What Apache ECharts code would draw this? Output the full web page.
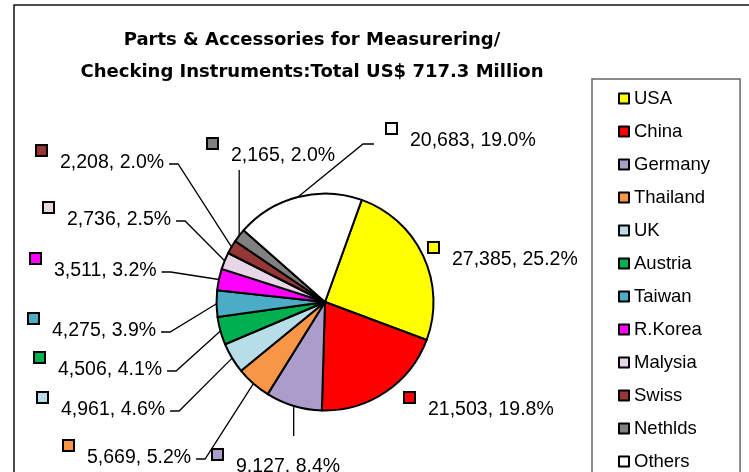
<!DOCTYPE html>
<html>
<head>
<meta charset="utf-8">
<script src="https://cdn.jsdelivr.net/npm/echarts@6/dist/echarts.min.js"></script>
<style>
  html, body { margin: 0; padding: 0; background: #fff; }
  #chart { width: 749px; height: 472px; }
</style>
</head>
<body>
<div id="chart"></div>
<script>
// Import values of parts & accessories for measuring/checking instruments
const countries = ['USA', 'China', 'Germany', 'Thailand', 'UK', 'Austria', 'Taiwan', 'R.Korea', 'Malysia', 'Swiss', 'Nethlds', 'Others'];
const values = [27385, 21503, 9127, 5669, 4961, 4506, 4275, 3511, 2736, 2208, 2165, 20683];
const colors = ['#FFFF00', '#FF0000', '#AC9CC9', '#F79646', '#B7DEE8', '#00B050', '#4BACC6', '#FF00FF', '#E6D6E6', '#953735', '#808080', '#FFFFFF'];
const titleLines = ['Parts & Accessories for Measurering/', 'Checking Instruments:Total US$ 717.3 Million'];

// Label placement: [marker left x, text middle y] and the route of each leader line
const labelSpots = [[429, 260], [405, 410], [213, 467], [64, 458], [38, 410], [35, 370], [29, 331], [31, 271], [44, 220], [37, 163], [208, 156], [387, 141]];
const leaderKinds = ['none', 'none', 'down', 'left', 'left', 'left', 'left', 'left', 'left', 'left', 'up', 'right'];

const FONT = '"Liberation Sans", Arial, sans-serif';
const TITLE_FONT = '"DejaVu Sans", Verdana, sans-serif';

// Title size: the first line spans 377px
const measureCtx = document.createElement('canvas').getContext('2d');
measureCtx.font = 'bold 20px ' + TITLE_FONT;
const titleSize = 20 * 377 / measureCtx.measureText(titleLines[0]).width;

// one rich style per slice for the small coloured key square in front of each label
const rich = {
  t: { fontSize: 19.5, fontFamily: FONT, color: '#000', lineHeight: 20, verticalAlign: 'bottom', padding: [0, 0, 0, 14] }
};
colors.forEach((c, i) => {
  rich['m' + i] = {
    width: 9, height: 9, lineHeight: 27, verticalAlign: 'top',
    backgroundColor: c, borderColor: '#000', borderWidth: 2
  };
});

const chart = echarts.init(document.getElementById('chart'), null, { renderer: 'canvas' });

chart.setOption({
  animation: false,
  backgroundColor: '#fff',
  graphic: [{
    type: 'rect',
    silent: true,
    z: -1,
    shape: { x: 14, y: 5, width: 760, height: 500 },
    style: { fill: 'none', stroke: '#111', lineWidth: 1.5 }
  }],
  title: {
    text: titleLines.join('\n'),
    left: 307,
    top: 20,
    textAlign: 'center',
    textStyle: { fontFamily: TITLE_FONT, fontSize: titleSize, fontWeight: 'bold', color: '#000', lineHeight: 31.5 }
  },
  legend: {
    orient: 'vertical',
    left: 592,
    top: 79,
    height: 600,
    padding: [10, 30, 10, 26],
    itemWidth: 10,
    itemHeight: 10,
    itemGap: 14,
    icon: 'rect',
    selectedMode: false,
    borderColor: '#666',
    borderWidth: 1.5,
    textStyle: { fontFamily: FONT, fontSize: 18.5, color: '#000' },
    data: countries
  },
  series: [{
    type: 'pie',
    center: [325, 302],
    radius: 108.5,
    startAngle: 70.2,
    clockwise: true,
    avoidLabelOverlap: false,
    emphasis: { disabled: true },
    itemStyle: { borderColor: '#000', borderWidth: 2 },
    label: {
      show: true,
      position: 'outside',
      formatter: p => '{m' + p.dataIndex + '|}{t|' + p.value.toLocaleString('en-US') + ', ' + p.percent.toFixed(1) + '%}',
      rich: rich
    },
    labelLine: { show: true, lineStyle: { color: '#000', width: 1.3 } },
    labelLayout: params => {
      const i = params.dataIndex;
      const s = labelSpots[i];
      const r = params.labelRect;
      const x = s[0];
      const top = s[1] - 17;
      const out = { x: x, y: top, align: 'left', verticalAlign: 'top' };
      const a = params.labelLinePoints && params.labelLinePoints[0];
      if (a) {
        const right = x + r.width;
        const mid = s[1] + 1;
        switch (leaderKinds[i]) {
          case 'left':
            out.labelLinePoints = [a, [right + 12, mid], [right + 3, mid]];
            break;
          case 'right':
            out.labelLinePoints = [a, [x - 24, mid + 2], [x - 13, mid + 2]];
            break;
          case 'up':
            out.labelLinePoints = [a, [a[0], (a[1] + top + r.height + 2) / 2], [a[0], top + r.height + 2]];
            break;
          case 'down':
            out.labelLinePoints = [a, [a[0], (a[1] + top - 14) / 2], [a[0], top - 14]];
            break;
        }
      }
      return out;
    },
    data: values.map((v, i) => ({
      name: countries[i],
      value: v,
      itemStyle: { color: colors[i] },
      labelLine: { show: leaderKinds[i] !== 'none' }
    }))
  }]
});
</script>
</body>
</html>
